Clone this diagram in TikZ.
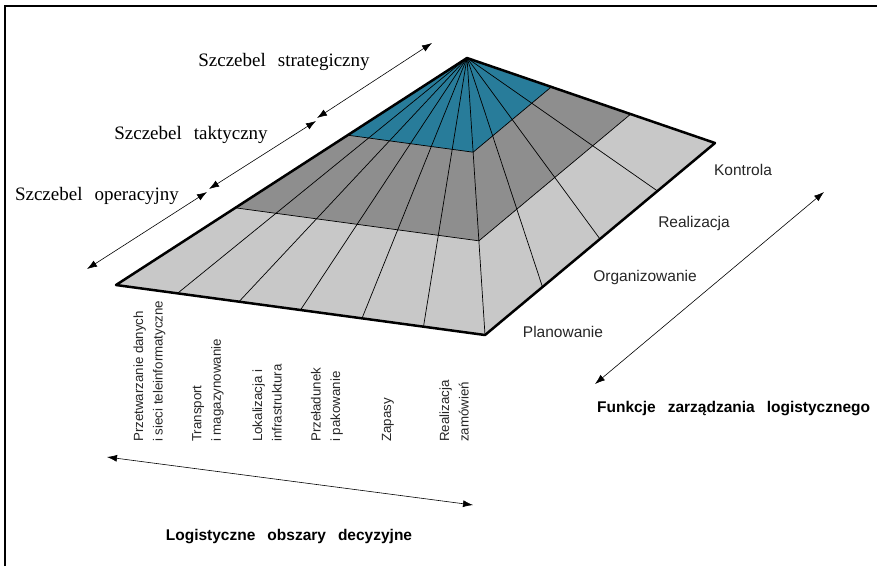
\documentclass[tikz,border=0pt]{standalone}
\usepackage{fontspec}
\setmainfont{Liberation Serif}
\setsansfont{Liberation Sans}
\usetikzlibrary{arrows.meta,calc,positioning}
\tikzset{>={Latex[length=10pt,width=7pt]}}
\definecolor{szczytblue}{RGB}{40,124,154}
\definecolor{ciemnyszary}{RGB}{142,142,142}
\definecolor{jasnyszary}{RGB}{200,200,200}
\newcommand{\odstepslow}[1]{\spaceskip=#1\relax}

\begin{document}
\begin{tikzpicture}[x=1pt,y=-1pt,
	szczebel/.style={font=\fontsize{19}{22}\selectfont\odstepslow{12pt}, inner sep=0pt},
	funkcja/.style={font=\sffamily\fontsize{15.5}{18}\selectfont, text=black!85, inner sep=0pt},
	obszar/.style={font=\sffamily\fontsize{13.3}{19.5}\selectfont, text=black!85, rotate=90, anchor=west, align=left, inner sep=0pt},
	tytul/.style={font=\sffamily\bfseries\fontsize{15.5}{18}\selectfont\odstepslow{12pt}, inner sep=0pt},
	cienka/.style={line width=0.7pt},
	strzalka/.style={<->, line width=0.6pt}]
	\useasboundingbox[fill=white] (0,0) rectangle (877,566);
	\draw[line width=1.5pt] (5,566) -- (5,6) -- (877,6);

	% piramida
	\coordinate (szczyt) at (467,58);
	\coordinate (lewy) at (116,285);
	\coordinate (przod) at (485,335);
	\coordinate (prawy) at (715,143);
	\foreach \r in {lewy,przod,prawy}{
		\coordinate (\r-1) at ($(szczyt)!0.34!(\r)$);
		\coordinate (\r-2) at ($(szczyt)!0.66!(\r)$);
	}
	\fill[jasnyszary] (szczyt) -- (lewy) -- (przod) -- (prawy) -- cycle;
	\fill[ciemnyszary] (szczyt) -- (lewy-2) -- (przod-2) -- (prawy-2) -- cycle;
	\fill[szczytblue] (szczyt) -- (lewy-1) -- (przod-1) -- (prawy-1) -- cycle;
	\foreach \k in {1,...,5}
		\draw[cienka] (szczyt) -- ($(lewy)!\k/6!(przod)$);
	\foreach \k in {1,2,3}
		\draw[cienka] (szczyt) -- ($(przod)!\k/4!(prawy)$);
	\draw[cienka] (szczyt) -- (przod);
	\draw[cienka] (lewy-1) -- (przod-1) -- (prawy-1);
	\draw[cienka] (lewy-2) -- (przod-2) -- (prawy-2);
	\draw[line width=2.5pt, line join=round] (szczyt) -- (lewy) -- (przod) -- (prawy) -- cycle;

	% szczeble
	\node[szczebel] (strategiczny) at (284,62) {Szczebel strategiczny};
	\node[szczebel] (taktyczny) at (191,135) {Szczebel taktyczny};
	\node[szczebel] (operacyjny) at (97,196) {Szczebel operacyjny};
	\coordinate (s1) at (317,118);
	\coordinate (s2) at (432,43);
	\coordinate (t1) at (316,121);
	\coordinate (t2) at (209,189);
	\coordinate (o1) at (207,192);
	\coordinate (o2) at (87,269);
	\draw[strzalka] (s1) -- (s2);
	\draw[strzalka] (t1) -- (t2);
	\draw[strzalka] (o1) -- (o2);

	% funkcje
	\node[funkcja] (kontrola) at (743,170) {Kontrola};
	\node[funkcja] (realizacja) at (694,223) {Realizacja};
	\node[funkcja] (organizowanie) at (645,277) {Organizowanie};
	\node[funkcja] (planowanie) at (563,332) {Planowanie};
	\coordinate (f1) at (595,384);
	\coordinate (f2) at (824,192);
	\draw[strzalka] (f1) -- (f2);
	\node[tytul, anchor=west] (funkcje) at (597,409) {Funkcje zarządzania logistycznego};

	% obszary
	\node[obszar] (przetwarzanie) at (149.5,442) {Przetwarzanie danych\\i sieci teleinformatyczne};
	\node[obszar] (transport) at (208,442) {Transport\\i magazynowanie};
	\node[obszar] (lokalizacja) at (267,442) {Lokalizacja i\\infrastruktura};
	\node[obszar] (przeladunek) at (327,442) {Przeładunek\\i pakowanie};
	\node[obszar] (zapasy) at (388,442) {Zapasy};
	\node[obszar] (zamowienia) at (454,442) {Realizacja\\zamówień};
	\coordinate (d1) at (107,457);
	\coordinate (d2) at (473,505);
	\draw[strzalka] (d1) -- (d2);
	\node[tytul] (obszary) at (289,537) {Logistyczne obszary decyzyjne};
\end{tikzpicture}
\end{document}
